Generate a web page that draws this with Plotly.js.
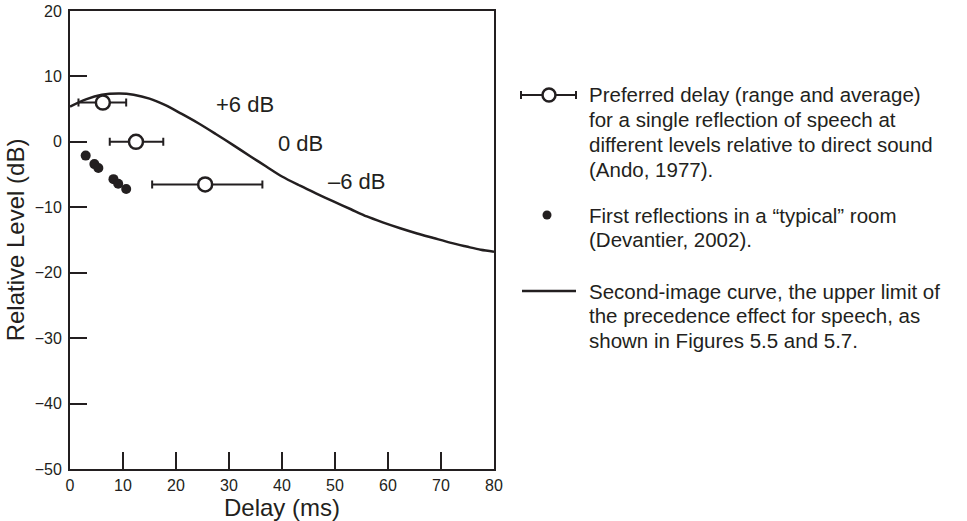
<!DOCTYPE html>
<html><head><meta charset="utf-8">
<script src="https://cdn.plot.ly/plotly-3.0.1.min.js"></script>
<style>html,body{margin:0;padding:0;background:#fff}</style>
</head><body><div id="chart" style="width:967px;height:521px"></div>
<script>
// Second-image curve (upper limit of precedence effect for speech)
const curveDelay = [0, 3, 6, 9.4, 12, 15, 18, 21, 24.3, 27.5, 30.8, 34, 37.1, 40, 43.4, 46.5, 49.7, 53, 56, 59, 62.3, 65.5, 68.6, 71.7, 74.8, 77.5, 80];
const curveLevel = [5.4, 6.5, 7.2, 7.4, 7.2, 6.6, 5.6, 4.3, 2.8, 1.2, -0.5, -2.2, -3.8, -5.3, -6.7, -7.9, -9.1, -10.3, -11.4, -12.3, -13.2, -14.0, -14.7, -15.4, -16.0, -16.5, -16.8];
// Preferred delay (Ando, 1977)
const prefDelay = [6.2, 12.45, 25.5];
const prefLevel = [6, 0, -6.5];
const prefLow = [1.6, 7.5, 15.5];
const prefHigh = [10.6, 17.6, 36.3];
// Level labels
const levelLabels = ['+6 dB', '0 dB', '–6 dB'];
const labelDelay = [33, 43.4, 54.1];
const labelLevel = [5.65, -0.2, -6.1];
// First reflections in a typical room (Devantier, 2002)
const roomDelay = [2.96, 4.6, 5.35, 8.2, 9.1, 10.6];
const roomLevel = [-2.1, -3.4, -4.0, -5.7, -6.4, -7.2];
// Axes
const xTickVals = [0, 10, 20, 30, 40, 50, 60, 70, 80];
const yTickVals = [-50, -40, -30, -20, -10, 0, 10, 20];
const xTitle = 'Delay (ms)';
const yTitle = 'Relative Level (dB)';
// Legend text
const legendItems = [
  ['Preferred delay (range and average)', 'for a single reflection of speech at', 'different levels relative to direct sound', '(Ando, 1977).'],
  ['First reflections in a “typical” room', '(Devantier, 2002).'],
  ['Second-image curve, the upper limit of', 'the precedence effect for speech, as', 'shown in Figures 5.5 and 5.7.']
];

const INK = '#231f20';
const FONT = 'Liberation Sans, Arial, Helvetica, sans-serif';
const M = {l: 70, r: 473, t: 11, b: 52};
const W = 967, H = 521;
const PW = W - M.l - M.r, PH = H - M.t - M.b;
const px = v => (v - M.l) / PW;
const py = v => (H - M.b - v) / PH;

const traces = [
  {x: curveDelay, y: curveLevel, mode: 'lines', line: {color: INK, width: 2.5, shape: 'spline', smoothing: 0.8}, hoverinfo: 'skip', name: 'Second-image curve'},
  {x: roomDelay, y: roomLevel, mode: 'markers', marker: {color: INK, size: 10}, name: 'First reflections'},
  {x: prefDelay, y: prefLevel, mode: 'markers', name: 'Preferred delay',
   marker: {symbol: 'circle', size: 14, color: '#fff', line: {color: INK, width: 2.5}},
   error_x: {type: 'data', symmetric: false,
     array: prefHigh.map((h, i) => h - prefDelay[i]),
     arrayminus: prefLow.map((l, i) => prefDelay[i] - l),
     color: INK, thickness: 2, width: 4}}
];

const annotations = levelLabels.map((t, i) => ({
  x: labelDelay[i], y: labelLevel[i], xref: 'x', yref: 'y', text: t, showarrow: false,
  xanchor: 'center', yanchor: 'middle', font: {family: FONT, size: 22, color: INK}
}));

const lineStarts = [95, 215, 291];
const LS = 24.7;
legendItems.forEach((lines, k) => {
  lines.forEach((t, j) => {
    annotations.push({x: px(587), y: py(lineStarts[k] + j * LS), xref: 'paper', yref: 'paper',
      text: t, showarrow: false, xanchor: 'left', yanchor: 'middle',
      font: {family: FONT, size: 20.5, color: INK}});
  });
});

const shapes = [
  // legend symbol 1: range bar + open circle
  {type: 'line', xref: 'paper', yref: 'paper', x0: px(521), x1: px(576), y0: py(95), y1: py(95), line: {color: INK, width: 2}},
  {type: 'line', xref: 'paper', yref: 'paper', x0: px(521), x1: px(521), y0: py(91), y1: py(99), line: {color: INK, width: 2}},
  {type: 'line', xref: 'paper', yref: 'paper', x0: px(576), x1: px(576), y0: py(91), y1: py(99), line: {color: INK, width: 2}},
  {type: 'circle', xref: 'paper', yref: 'paper', x0: px(542.5), x1: px(555.5), y0: py(88.5), y1: py(101.5), fillcolor: '#fff', line: {color: INK, width: 2.5}},
  // legend symbol 2: dot
  {type: 'circle', xref: 'paper', yref: 'paper', x0: px(542.5), x1: px(551.5), y0: py(210.5), y1: py(219.5), fillcolor: INK, line: {color: INK, width: 0}},
  // legend symbol 3: line
  {type: 'line', xref: 'paper', yref: 'paper', x0: px(522), x1: px(576), y0: py(291), y1: py(291), line: {color: INK, width: 2.5}}
];

const axisCommon = {showline: true, mirror: true, linecolor: INK, linewidth: 2, ticks: 'inside', ticklen: 17, tickwidth: 2, tickcolor: INK,
  showgrid: false, zeroline: false, tickfont: {family: FONT, size: 16, color: INK}};

const layout = {
  width: W, height: H, margin: M, showlegend: false,
  paper_bgcolor: '#fff', plot_bgcolor: '#fff',
  font: {family: FONT, color: INK},
  xaxis: Object.assign({}, axisCommon, {range: [0, 80], tickvals: xTickVals, ticklabelstandoff: 1,
    title: {text: xTitle, font: {family: FONT, size: 24, color: INK}, standoff: 0}}),
  yaxis: Object.assign({}, axisCommon, {range: [-50, 20], tickvals: yTickVals, ticklabelstandoff: 3,
    title: {text: yTitle, font: {family: FONT, size: 24, color: INK}, standoff: 3}}),
  annotations: annotations,
  shapes: shapes
};

Plotly.newPlot('chart', traces, layout, {displayModeBar: false, staticPlot: true});
</script>
</body></html>
